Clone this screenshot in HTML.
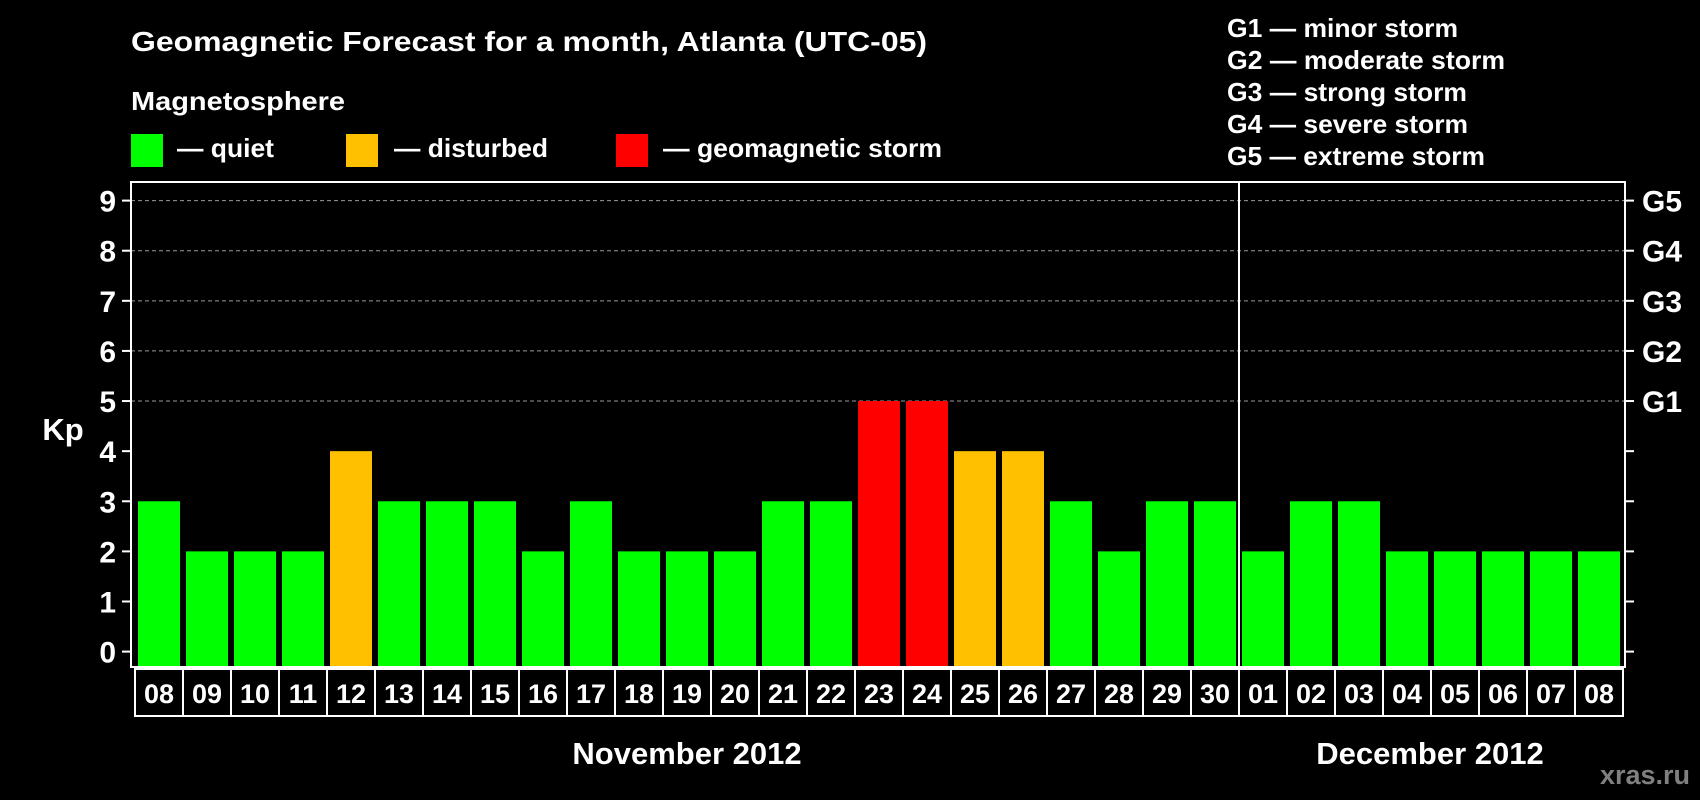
<!DOCTYPE html>
<html><head><meta charset="utf-8"><style>
html,body{margin:0;padding:0;background:#000;width:1700px;height:800px;overflow:hidden}
svg{display:block}
text{font-family:"Liberation Sans",Arial,sans-serif;font-weight:bold;fill:#fff}
</style></head><body>
<svg id="chart" width="1700" height="800" viewBox="0 0 1700 800">
<text x="131" y="51" font-size="28" textLength="796" lengthAdjust="spacingAndGlyphs">Geomagnetic Forecast for a month, Atlanta (UTC-05)</text>
<text x="131" y="110" font-size="26" textLength="214" lengthAdjust="spacingAndGlyphs">Magnetosphere</text>
<g><rect x="131" y="134" width="32" height="33" fill="#00ff00"/><text x="177" y="157" font-size="26" textLength="97" lengthAdjust="spacingAndGlyphs">— quiet</text></g>
<g><rect x="346" y="134" width="32" height="33" fill="#ffc000"/><text x="394" y="157" font-size="26" textLength="154" lengthAdjust="spacingAndGlyphs">— disturbed</text></g>
<g><rect x="616" y="134" width="32" height="33" fill="#ff0000"/><text x="663" y="157" font-size="26" textLength="279" lengthAdjust="spacingAndGlyphs">— geomagnetic storm</text></g>
<g>
<text x="1227" y="37" font-size="26" textLength="231" lengthAdjust="spacingAndGlyphs">G1 — minor storm</text>
<text x="1227" y="69" font-size="26" textLength="278" lengthAdjust="spacingAndGlyphs">G2 — moderate storm</text>
<text x="1227" y="101" font-size="26" textLength="240" lengthAdjust="spacingAndGlyphs">G3 — strong storm</text>
<text x="1227" y="133" font-size="26" textLength="241" lengthAdjust="spacingAndGlyphs">G4 — severe storm</text>
<text x="1227" y="165" font-size="26" textLength="258" lengthAdjust="spacingAndGlyphs">G5 — extreme storm</text>
</g>
<text x="63" y="440" font-size="31" text-anchor="middle">Kp</text>
<g id="grid"></g><g id="bars"></g><g id="axes"></g><g id="xlabels"></g>
<text x="687" y="764" font-size="31" text-anchor="middle">November 2012</text>
<text x="1430" y="764" font-size="31" text-anchor="middle">December 2012</text>
<text x="1690" y="784" font-size="27" text-anchor="end" style="fill:#808080">xras.ru</text>
</svg>
<script>
const days = ["08","09","10","11","12","13","14","15","16","17","18","19","20","21","22","23","24","25","26","27","28","29","30","01","02","03","04","05","06","07","08"];
const kpValues = [3,2,2,2,4,3,3,3,2,3,2,2,2,3,3,5,5,4,4,3,2,3,3,2,3,3,2,2,2,2,2];
const yTicks = [0,1,2,3,4,5,6,7,8,9];
const gLabels = ["G1","G2","G3","G4","G5"];
const monthBreakIndex = 23;

const NS = "http://www.w3.org/2000/svg";
const plotL = 131, plotR = 1625, plotT = 182, plotB = 667;
const y0 = 651.6, unit = (651.6 - 200.6) / 9;
const barStart = 138, pitch = 48, barW = 42;
function yScale(v){ return y0 - v * unit; }
function xScale(i){ return barStart + i * pitch; }
function el(tag, attrs, parent){ const e = document.createElementNS(NS, tag); for (const k in attrs) e.setAttribute(k, attrs[k]); parent.appendChild(e); return e; }
function color(v){ return v >= 5 ? "#ff0000" : v >= 4 ? "#ffc000" : "#00ff00"; }

const grid = document.getElementById("grid");
const axes = document.getElementById("axes");
const bars = document.getElementById("bars");
const xl = document.getElementById("xlabels");

yTicks.forEach(t => {
  const y = yScale(t);
  if (t >= 5) {
    const g = el("line", {x1: plotL, x2: plotR, y1: y, y2: y, stroke: "#999", "stroke-width": 1, "stroke-dasharray": "4,3"}, grid);
    
    
  }
  const tk = el("line", {x1: 122, x2: plotL, y1: y, y2: y, stroke: "#fff", "stroke-width": 2}, axes);
  
  
  const tr = el("line", {x1: plotR, x2: plotR + 9, y1: y, y2: y, stroke: "#fff", "stroke-width": 2}, axes);
  
  
  const lb = el("text", {x: 116, y: y + 11, "font-size": 30, "text-anchor": "end"}, axes);
  lb.textContent = t;
  
  
});
gLabels.forEach((g, i) => {
  const lb = el("text", {x: 1642, y: yScale(5 + i) + 11, "font-size": 30}, axes);
  lb.textContent = g;
  
  
});

kpValues.forEach((v, i) => {
  const r = el("rect", {x: xScale(i), y: yScale(v), width: barW, height: plotB - 1 - yScale(v), fill: color(v)}, bars);
  
  
});

const frame = el("rect", {x: plotL, y: plotT, width: plotR - plotL, height: plotB - plotT, fill: "none", stroke: "#fff", "stroke-width": 2}, axes);


const divX = xScale(monthBreakIndex) - 3;
const dv = el("line", {x1: divX, x2: divX, y1: plotT, y2: plotB, stroke: "#fff", "stroke-width": 2}, axes);



days.forEach((d, i) => {
  const bx = 135 + i * pitch;
  const bw = (i === days.length - 1) ? 1623 - bx : pitch;
  const r = el("rect", {x: bx, y: 669, width: bw, height: 47, fill: "none", stroke: "#fff", "stroke-width": 2}, xl);
  
  
  const t = el("text", {x: bx + bw / 2, y: 703, "font-size": 27, "text-anchor": "middle"}, xl);
  t.textContent = d;
  
  
});
</script>
</body></html>
